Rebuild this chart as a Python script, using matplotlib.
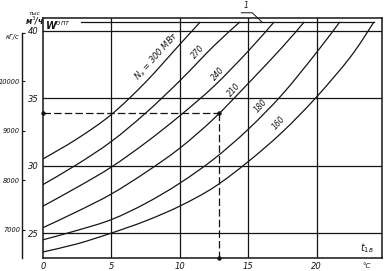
import numpy as np
import matplotlib.pyplot as plt
from matplotlib.path import Path
from matplotlib.patches import PathPatch

# --- data ---
# flow (thousand m3/h) vs. inlet water temperature t_1v, for several loads N_e (MW)
loads = [300, 270, 240, 210, 180, 160]
curve_t = {
    300: [0, 2.5, 5, 7.5, 10, 11.5],
    270: [0, 2.5, 5, 7.5, 10, 12.5, 14.4],
    240: [0, 2.5, 5, 7.5, 10, 12.5, 15, 16.9],
    210: [0, 2.5, 5, 7.5, 10, 12.5, 15, 17.5, 19.1],
    180: [0, 2.5, 5, 7.5, 10, 12.5, 15, 17.5, 20, 21.7],
    160: [0, 2.5, 5, 7.5, 10, 12.5, 15, 17.5, 20, 22.5, 24.2],
}
curve_w = {
    300: [30.5, 32.0, 33.8, 36.2, 39.0, 40.67],
    270: [28.6, 30.1, 31.8, 33.9, 36.3, 38.9, 40.67],
    240: [27.0, 28.4, 29.9, 31.7, 33.7, 35.9, 38.5, 40.67],
    210: [25.4, 26.6, 27.9, 29.5, 31.3, 33.5, 36.1, 38.8, 40.67],
    180: [24.5, 25.2, 26.0, 27.2, 28.7, 30.5, 32.7, 35.3, 38.4, 40.67],
    160: [23.6, 24.2, 25.0, 25.9, 27.0, 28.4, 30.3, 32.5, 35.1, 38.1, 40.67],
}
curve_labels = ['N$_э$ = 300 МВт', '270', '240', '210', '180', '160']
label_pos = [(8.3, 38.1), (11.3, 38.45), (12.8, 36.8), (13.95, 35.6), (15.95, 34.45), (17.25, 33.2)]

w_opt = 40.67            # W_opt limit line
w_opt_from = 2.8
example_t, example_w = 12.9, 33.9

x_ticks = [0, 5, 10, 15, 20]
y_ticks = [25, 30, 35, 40]
kg_ticks = [7000, 8000, 9000, 10000]

ink = '#151515'
plt.rcParams['font.family'] = 'DejaVu Sans'


def smooth_path(xs, ys):
    # cubic bezier through the read points (catmull-rom style handles)
    pts = np.column_stack([xs, ys]).astype(float)
    verts = [pts[0]]
    codes = [Path.MOVETO]
    n = len(pts)
    for i in range(n - 1):
        p0 = pts[max(i - 1, 0)]
        p1, p2 = pts[i], pts[i + 1]
        p3 = pts[min(i + 2, n - 1)]
        verts += [p1 + (p2 - p0) / 6, p2 - (p3 - p1) / 6, p2]
        codes += [Path.CURVE4] * 3
    return Path(verts, codes)


fig = plt.figure(figsize=(3.89, 2.71), dpi=100)
ax = fig.add_axes([0.1105, 0.048, 0.872, 0.886])
xmin, xmax, ymin, ymax = 0, 24.8, 23.15, 40.97
ax.set_xlim(xmin, xmax)
ax.set_ylim(ymin, ymax)

for v in x_ticks[1:]:
    ax.axvline(v, color=ink, lw=0.9)
for v in y_ticks:
    ax.axhline(v, color=ink, lw=0.9)

for n in loads:
    ax.add_patch(PathPatch(smooth_path(curve_t[n], curve_w[n]), fill=False,
                           edgecolor=ink, lw=0.9))

for txt, (px, py) in zip(curve_labels, label_pos):
    ax.text(px, py, txt, fontsize=6 if len(txt) > 3 else 5.5, style='italic',
            rotation=48, ha='center', va='center', color=ink, rotation_mode='anchor')

# W_opt line and its label
ax.plot([w_opt_from, curve_t[160][-1]], [w_opt, w_opt], color=ink, lw=0.9)
ax.text(0.15, 40.4, 'W$^{опт}$', fontsize=7, style='italic', fontweight='bold',
        ha='left', va='center', color=ink)
ax.plot([14.5, 15.3, 16.0], [41.35, 41.35, w_opt], color=ink, lw=0.7, clip_on=False)
ax.text(14.85, 41.55, '1', fontsize=5.5, style='italic', ha='center', va='bottom',
        color=ink, clip_on=False)

# worked example (dashed)
ax.plot([xmin, example_t], [example_w, example_w], color=ink, lw=0.9, dashes=(6, 2.5))
ax.plot([example_t, example_t], [example_w, ymin], color=ink, lw=0.9, dashes=(6, 2.5))
ax.plot([xmin, example_t, example_t], [example_w, example_w, ymin], 'o', ms=2.2,
        color=ink, clip_on=False)

ax.set_xticks(x_ticks)
ax.set_yticks(y_ticks)
ax.set_xticklabels([str(v) for v in x_ticks], fontsize=6, style='italic')
ax.set_yticklabels([str(v) for v in y_ticks], fontsize=6, style='italic')
ax.tick_params(length=0, pad=3, colors=ink)
for s in ax.spines.values():
    s.set_color(ink)
    s.set_linewidth(1.1)

ax.text(23.2, 23.9, '$t_{1в}$', fontsize=7, ha='left', va='center', color=ink)
ax.text(23.35, 22.55, '°C', fontsize=5, style='italic', ha='left', va='center',
        color=ink, clip_on=False)

# units of the main scale
fig.text(0.09, 0.952, 'тыс', fontsize=4.5, style='italic', ha='center', va='center', color=ink)
fig.text(0.09, 0.923, 'м$^3$/ч', fontsize=5.5, style='italic', fontweight='bold',
         ha='center', va='center', color=ink)

# second scale, kgf/s
ax2 = fig.add_axes([0.0566, 0.048, 0.001, 0.830])
ax2.set_ylim(6436, 10966)
ax2.set_xticks([])
for side in ['right', 'top', 'bottom']:
    ax2.spines[side].set_visible(False)
ax2.spines['left'].set_color(ink)
ax2.spines['left'].set_linewidth(1.0)
ax2.set_yticks(kg_ticks + [10966])
ax2.set_yticklabels([str(v) for v in kg_ticks] + [''], fontsize=4.8, style='italic')
ax2.tick_params(axis='y', direction='in', length=2, pad=1.5, colors=ink)
fig.text(0.032, 0.865, 'кГ/с', fontsize=4.8, style='italic', ha='center', va='center', color=ink)

fig.savefig('out.png', dpi=100)
